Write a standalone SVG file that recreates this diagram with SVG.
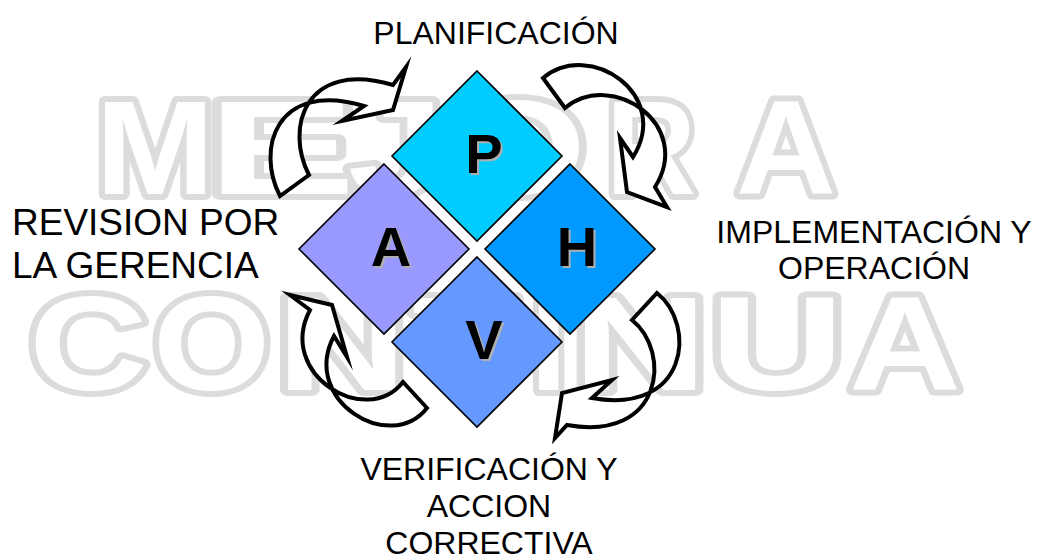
<svg xmlns="http://www.w3.org/2000/svg" width="1040" height="560" viewBox="0 0 1040 560">
<style>
.wm{font-family:"Liberation Sans",Arial,sans-serif;font-weight:bold;font-size:134px}
.wmo{fill:#fff;stroke:#dcdcdc;stroke-width:12;stroke-linejoin:round}
.wmi{fill:#fff}
.dia{stroke:#000;stroke-width:1.6}
.let{font-family:"Liberation Sans",Arial,sans-serif;font-weight:bold;font-size:56px;text-anchor:middle}
.sh{fill:#b0b0b0}
.fg{fill:#000}
.arr{fill:#fff;fill-rule:nonzero;stroke:#000;stroke-width:4;stroke-linejoin:miter;stroke-miterlimit:10}
.lbl{font-family:"Liberation Sans",Arial,sans-serif;font-size:32px;fill:#000;text-anchor:middle}
</style>
<defs>
<g id="wmtext">
<text x="95.6" y="194" textLength="118.9" lengthAdjust="spacingAndGlyphs">M</text>
<text x="206.7" y="194" textLength="149.3" lengthAdjust="spacingAndGlyphs">E</text>
<text x="347.5" y="194" textLength="96.9" lengthAdjust="spacingAndGlyphs">J</text>
<text x="448.9" y="194" textLength="137.3" lengthAdjust="spacingAndGlyphs">O</text>
<text x="606" y="194" textLength="90" lengthAdjust="spacingAndGlyphs">R</text>
<text x="736" y="194" textLength="100" lengthAdjust="spacingAndGlyphs">A</text>
<text x="29.1" y="390" textLength="118.8" lengthAdjust="spacingAndGlyphs">C</text>
<text x="153" y="390" textLength="117.2" lengthAdjust="spacingAndGlyphs">O</text>
<text x="275.9" y="390" textLength="131.4" lengthAdjust="spacingAndGlyphs">N</text>
<text x="412.2" y="390" textLength="105.6" lengthAdjust="spacingAndGlyphs">T</text>
<text x="529.9" y="390" textLength="37.3" lengthAdjust="spacingAndGlyphs">I</text>
<text x="572.5" y="390" textLength="135.2" lengthAdjust="spacingAndGlyphs">N</text>
<text x="709.8" y="390" textLength="134.7" lengthAdjust="spacingAndGlyphs">U</text>
<text x="849" y="390" textLength="112" lengthAdjust="spacingAndGlyphs">A</text>
</g>
</defs>
<rect width="1040" height="560" fill="#fff"/>
<g id="watermark" class="wm">
<use href="#wmtext" class="wmo"/>
<use href="#wmtext" class="wmi"/>
</g>
<g id="connectors">
<path id="arrow-A-P" class="arr" d="M280,196 C256,150 275,80 364,106 L342,121 L393,110 L406,67 L393,85 C304,59 285,129 309,175 Z"/>
<path id="arrow-P-H" class="arr" d="M543,78 C590,39 672,95 633,157 L620,138 L627,192 L667,207 L655,187 C694,125 612,69 565,108 Z"/>
<path id="arrow-H-V" class="arr" d="M657,293 C697,325 688,415 592,398 L612,380 L562,393 L555,438 L567,425 C663,442 672,352 632,320 Z"/>
<path id="arrow-V-A" class="arr" d="M427,408 C390,455 300,400 334,336 L347,357 L332,305 L290,295 L310,310 C276,374 366,429 403,382 Z"/>
</g>
<g id="node-P">
<polygon class="dia" fill="#00CCFF" points="477,71 562,156 477,241 392,156"/>
<text class="let sh" x="486" y="175">P</text>
<text class="let fg" x="484" y="173">P</text>
</g>
<g id="node-H">
<polygon class="dia" fill="#0099FF" points="570,164 655,249 570,334 485,249"/>
<text class="let sh" x="579" y="268">H</text>
<text class="let fg" x="577" y="266">H</text>
</g>
<g id="node-V">
<polygon class="dia" fill="#6699FF" points="477,257 562,342 477,427 392,342"/>
<text class="let sh" x="486" y="361">V</text>
<text class="let fg" x="484" y="359">V</text>
</g>
<g id="node-A">
<polygon class="dia" fill="#9999FF" points="384,164 469,249 384,334 299,249"/>
<text class="let sh" x="393" y="268">A</text>
<text class="let fg" x="391" y="266">A</text>
</g>
<g id="labels">
<text class="lbl" x="496" y="44">PLANIFICACIÓN</text>
<text class="lbl" x="874" y="243">IMPLEMENTACIÓN Y</text>
<text class="lbl" x="874" y="279">OPERACIÓN</text>
<text class="lbl" x="489" y="480">VERIFICACIÓN Y</text>
<text class="lbl" x="489" y="517">ACCION</text>
<text class="lbl" x="489" y="554">CORRECTIVA</text>
<text class="lbl" style="font-size:37px;text-anchor:start" x="12" y="235">REVISION POR</text>
<text class="lbl" style="font-size:37px;text-anchor:start" x="12" y="278">LA GERENCIA</text>
</g>
</svg>
